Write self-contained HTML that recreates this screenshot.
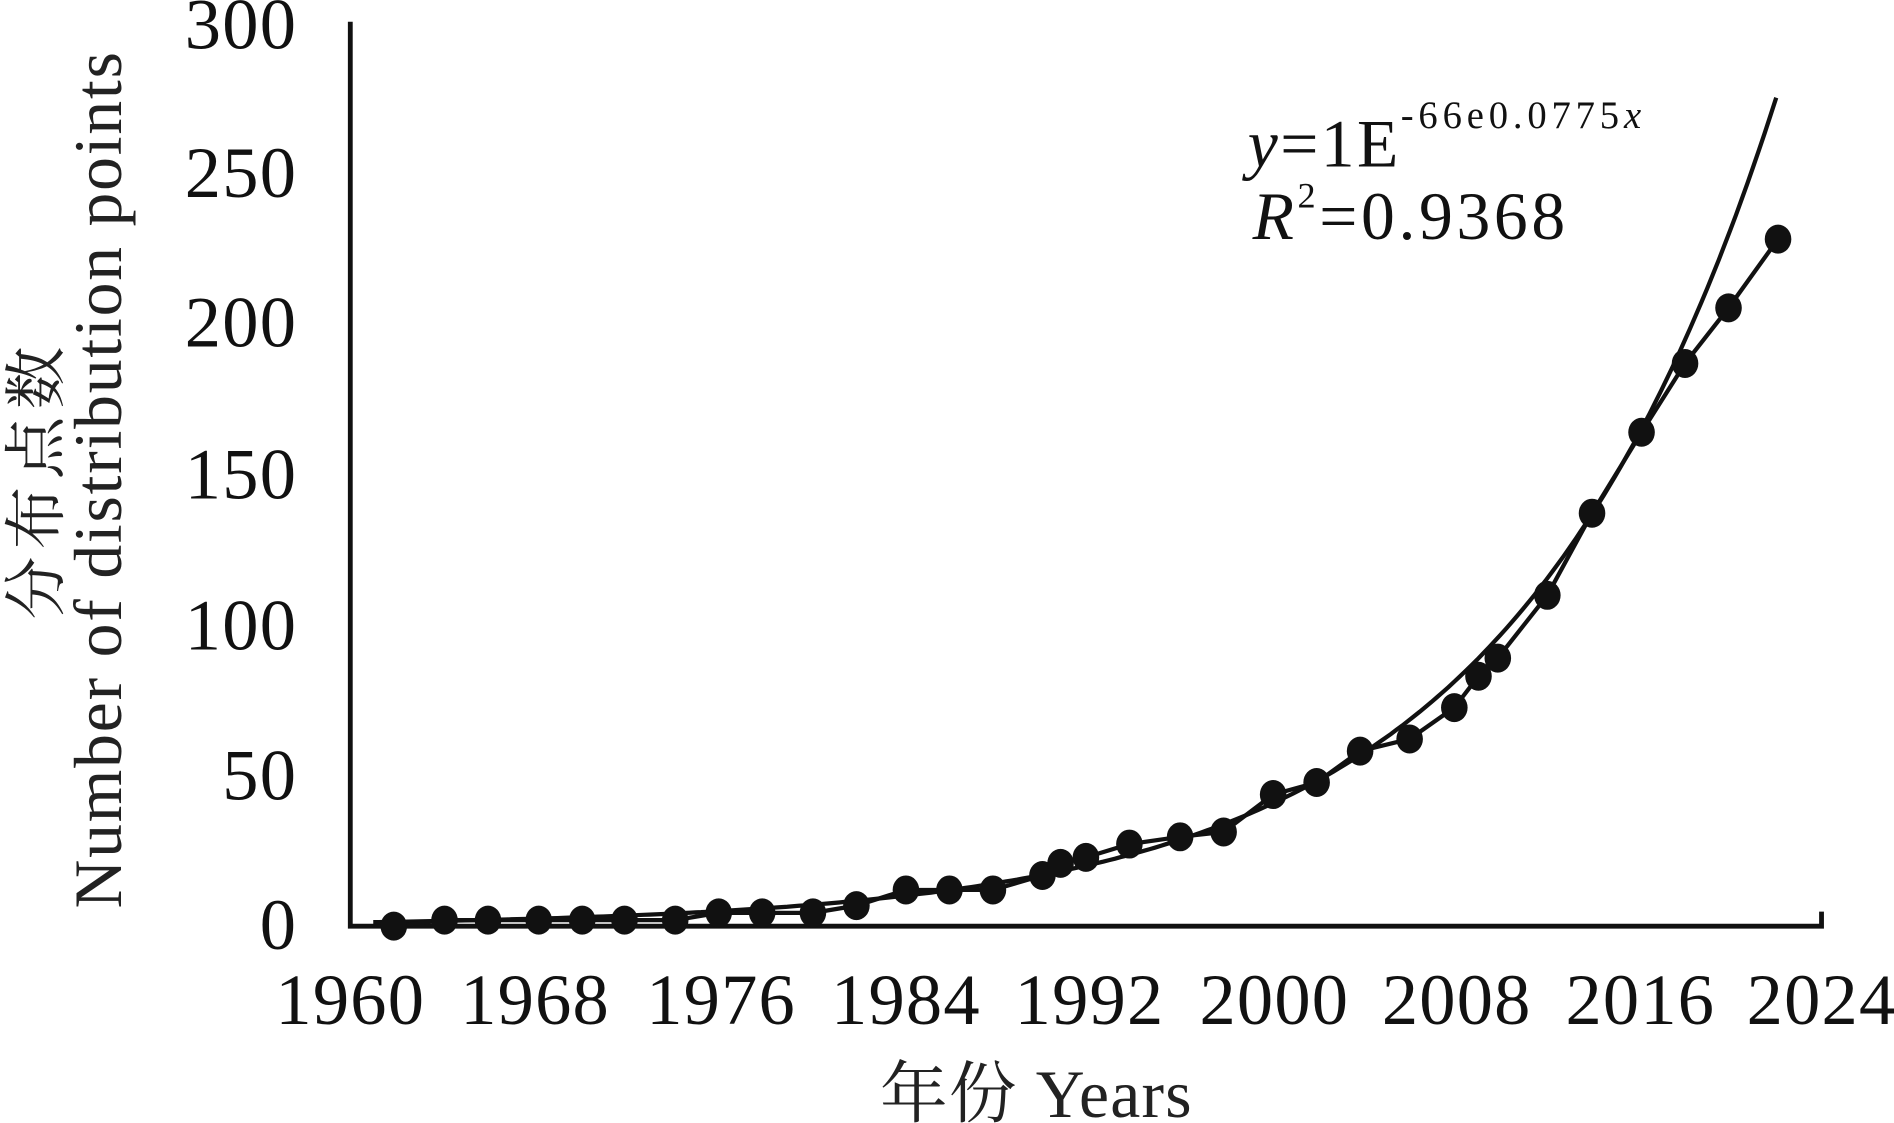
<!DOCTYPE html>
<html><head><meta charset="utf-8"><style>html,body{margin:0;padding:0;background:#fff;}svg{display:block}</style></head>
<body>
<svg id="s" width="1894" height="1123" viewBox="0 0 1568 930" preserveAspectRatio="none" xmlns="http://www.w3.org/2000/svg" font-family="Liberation Serif, Noto Serif CJK SC, serif" fill="#111">
<g stroke="#111" stroke-width="4" fill="none">
<path d="M290,18 L290,767 L1508,767 L1508,755"/>
</g>
<g font-size="60" text-anchor="end" letter-spacing="1">
<text x="246" y="40">300</text>
<text x="246" y="163">250</text>
<text x="246" y="287">200</text>
<text x="246" y="413">150</text>
<text x="246" y="538">100</text>
<text x="246" y="662">50</text>
<text x="246" y="786">0</text>
</g>
<g font-size="60" text-anchor="middle" letter-spacing="1">
<text x="290" y="848">1960</text>
<text x="443" y="848">1968</text>
<text x="597" y="848">1976</text>
<text x="750" y="848">1984</text>
<text x="902" y="848">1992</text>
<text x="1055" y="848">2000</text>
<text x="1206" y="848">2008</text>
<text x="1358" y="848">2016</text>
<text x="1508" y="848">2024</text>
</g>
<text x="858" y="925" font-size="56" text-anchor="middle" fill="#222" letter-spacing="1">年份 Years</text>
<text transform="translate(100,397) rotate(-90)" font-size="56" text-anchor="middle" fill="#222" letter-spacing="1.5">Number of distribution points</text>
<text transform="translate(48,397) rotate(-90)" font-size="52" text-anchor="middle" fill="#222" letter-spacing="6" font-family="Noto Serif CJK SC, serif">分布点数</text>
<text x="1033" y="138" font-size="56" letter-spacing="2"><tspan font-style="italic">y</tspan>=1E<tspan font-size="32" dy="-32" letter-spacing="4">-66e0.0775</tspan><tspan font-size="32" font-style="italic">x</tspan></text>
<text x="1037" y="198" font-size="56" letter-spacing="3"><tspan font-style="italic">R</tspan><tspan font-size="30" dy="-26">2</tspan><tspan dy="26">=0.9368</tspan></text>
<path id="fit" fill="none" stroke="#111" stroke-width="3.5"/>
<polyline id="data" fill="none" stroke="#111" stroke-width="3.5" points="326,767 368,762 404,762 446,762 482,762 517,762 559,762 595,756 631,756 673,756 709,750 750,737 786,737 822,737 863,725 878,715 899,710 935,699 977,693 1013,689 1054,658 1090,648 1126,622 1167,612 1204,586 1224,560 1240,545 1281,493 1318,425 1359,358 1395,301 1431,255 1472,198"/>
<g id="dots"></g>
</svg>
<script>
var pts=document.getElementById('data').getAttribute('points').trim().split(/\s+/);
var g=document.getElementById('dots'),h='';
pts.forEach(function(p){var a=p.split(',');h+='<ellipse cx="'+a[0]+'" cy="'+a[1]+'" rx="11" ry="12" fill="#111"/>';});
g.innerHTML=h;
var d='';
for(var yr=1961;yr<=2022.05;yr+=0.25){var v=275*Math.exp(0.0872*(yr-2022));var x=290+(yr-1960)*19.04;var y=767-v*2.495;d+=(d?'L':'M')+x.toFixed(1)+','+y.toFixed(1);}
document.getElementById('fit').setAttribute('d',d);
</script>
</body></html>
